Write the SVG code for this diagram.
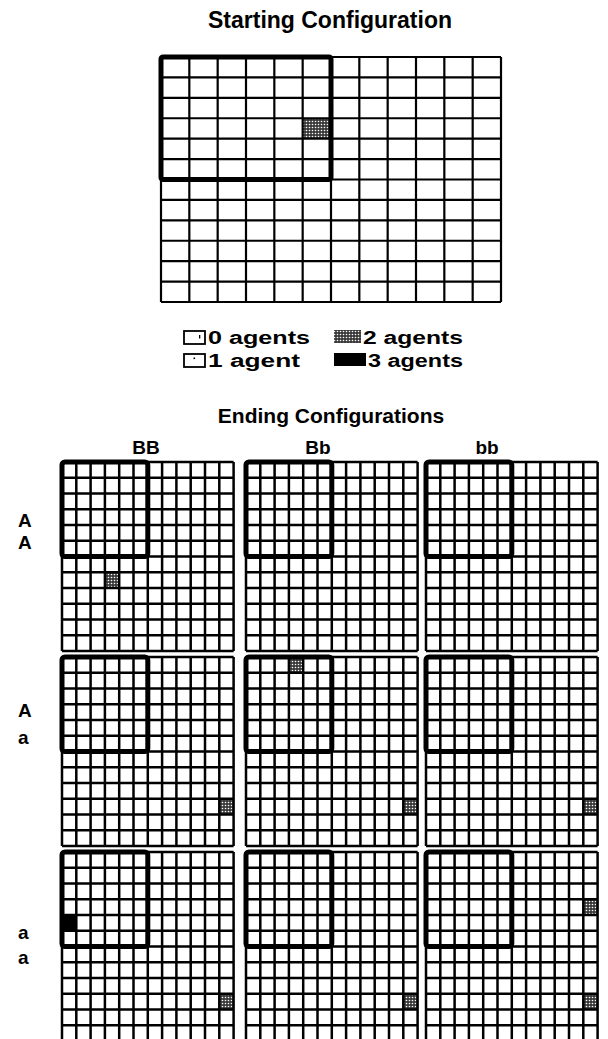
<svg xmlns="http://www.w3.org/2000/svg" width="608" height="1039" viewBox="0 0 608 1039">
<style>
.t{font-family:"Liberation Sans",Arial,sans-serif;font-weight:bold;fill:#000}
.title{font-size:21px}
.lab{font-size:19px}
.leg{font-size:18px}
.gl{fill:none;stroke:#000;stroke-width:2.2}
.eg{fill:none;stroke:#000;stroke-width:2.5}
.box{fill:none;stroke:#000;stroke-width:5;stroke-linejoin:round}
.s2{fill:url(#stip)}
.s3{fill:#000}
</style>
<defs>
<pattern id="stip" width="3" height="3" patternUnits="userSpaceOnUse">
<rect width="3" height="3" fill="#3a3a3a"/>
<circle cx="1.5" cy="1.5" r="0.8" fill="#fff"/>
</pattern>
<g id="egrid">
<path class="eg" d="M0 0V189M14.3 0V189M28.6 0V189M42.9 0V189M57.2 0V189M71.5 0V189M85.8 0V189M100.1 0V189M114.4 0V189M128.7 0V189M143 0V189M157.3 0V189M171.6 0V189M0 0H171.6M0 15.75H171.6M0 31.5H171.6M0 47.25H171.6M0 63H171.6M0 78.75H171.6M0 94.5H171.6M0 110.25H171.6M0 126H171.6M0 141.75H171.6M0 157.5H171.6M0 173.25H171.6M0 189H171.6"/>
<rect class="box" x="0" y="0" width="85.8" height="94.5" rx="3"/>
</g>
</defs>
<rect width="608" height="1039" fill="#fff"/>

<text class="t" x="330" y="28" text-anchor="middle" font-size="23">Starting Configuration</text>

<g id="start-grid" transform="translate(161,57)">
<rect class="s2" x="141.67" y="61.25" width="28.33" height="20.42"/>
<path class="gl" d="M0 0V245M28.33 0V245M56.67 0V245M85 0V245M113.33 0V245M141.67 0V245M170 0V245M198.33 0V245M226.67 0V245M255 0V245M283.33 0V245M311.67 0V245M340 0V245M0 0H340M0 20.42H340M0 40.83H340M0 61.25H340M0 81.67H340M0 102.08H340M0 122.5H340M0 142.92H340M0 163.33H340M0 183.75H340M0 204.17H340M0 224.58H340M0 245H340"/>
<rect class="box" x="0" y="0" width="170" height="122.5" rx="2"/>
</g>

<g id="legend">
<rect x="184" y="331" width="21" height="13" fill="#fff" stroke="#000" stroke-width="1.8"/>
<rect x="184" y="354" width="21" height="13" fill="#fff" stroke="#000" stroke-width="1.8"/>
<rect x="199" y="335" width="1.3" height="3.5" fill="#000"/>
<rect x="193.5" y="357.5" width="1.6" height="1.6" fill="#000"/>
<rect class="s2" x="334" y="330" width="27" height="13"/>
<rect class="s3" x="334" y="353" width="32" height="13"/>
<text class="t leg" x="208" y="344" textLength="102" lengthAdjust="spacingAndGlyphs">0 agents</text>
<text class="t leg" x="208" y="367" textLength="92" lengthAdjust="spacingAndGlyphs">1 agent</text>
<text class="t leg" x="363" y="344" textLength="100" lengthAdjust="spacingAndGlyphs">2 agents</text>
<text class="t leg" x="368" y="367" textLength="95" lengthAdjust="spacingAndGlyphs">3 agents</text>
</g>

<text class="t title" x="331" y="423" text-anchor="middle">Ending Configurations</text>
<g id="col-labels">
<text class="t lab" x="146" y="454" text-anchor="middle">BB</text>
<text class="t lab" x="318" y="454" text-anchor="middle">Bb</text>
<text class="t lab" x="487" y="454" text-anchor="middle">bb</text>
</g>
<g id="row-labels">
<text class="t lab" x="18" y="527">A</text>
<text class="t lab" x="18" y="549">A</text>
<text class="t lab" x="18" y="717">A</text>
<text class="t lab" x="18" y="744">a</text>
<text class="t lab" x="18" y="939">a</text>
<text class="t lab" x="18" y="964">a</text>
</g>

<g id="AA-BB" transform="translate(62,462)">
<rect class="s2" x="42.9" y="110.25" width="14.3" height="15.75"/>
<use href="#egrid"/>
</g>
<g id="AA-Bb" transform="translate(246,462)">
<use href="#egrid"/>
</g>
<g id="AA-bb" transform="translate(426,462)">
<use href="#egrid"/>
</g>

<g id="Aa-BB" transform="translate(62,657)">
<rect class="s2" x="157.3" y="141.75" width="14.3" height="15.75"/>
<use href="#egrid"/>
</g>
<g id="Aa-Bb" transform="translate(246,657)">
<rect class="s2" x="42.9" y="0" width="14.3" height="15.75"/>
<rect class="s2" x="157.3" y="141.75" width="14.3" height="15.75"/>
<use href="#egrid"/>
</g>
<g id="Aa-bb" transform="translate(426,657)">
<rect class="s2" x="157.3" y="141.75" width="14.3" height="15.75"/>
<use href="#egrid"/>
</g>

<g id="aa-BB" transform="translate(62,852)">
<rect class="s3" x="0" y="63" width="14.3" height="15.75"/>
<rect class="s2" x="157.3" y="141.75" width="14.3" height="15.75"/>
<use href="#egrid"/>
</g>
<g id="aa-Bb" transform="translate(246,852)">
<rect class="s2" x="157.3" y="141.75" width="14.3" height="15.75"/>
<use href="#egrid"/>
</g>
<g id="aa-bb" transform="translate(426,852)">
<rect class="s2" x="157.3" y="47.25" width="14.3" height="15.75"/>
<rect class="s2" x="157.3" y="141.75" width="14.3" height="15.75"/>
<use href="#egrid"/>
</g>

<g id="connectors"/>
</svg>
